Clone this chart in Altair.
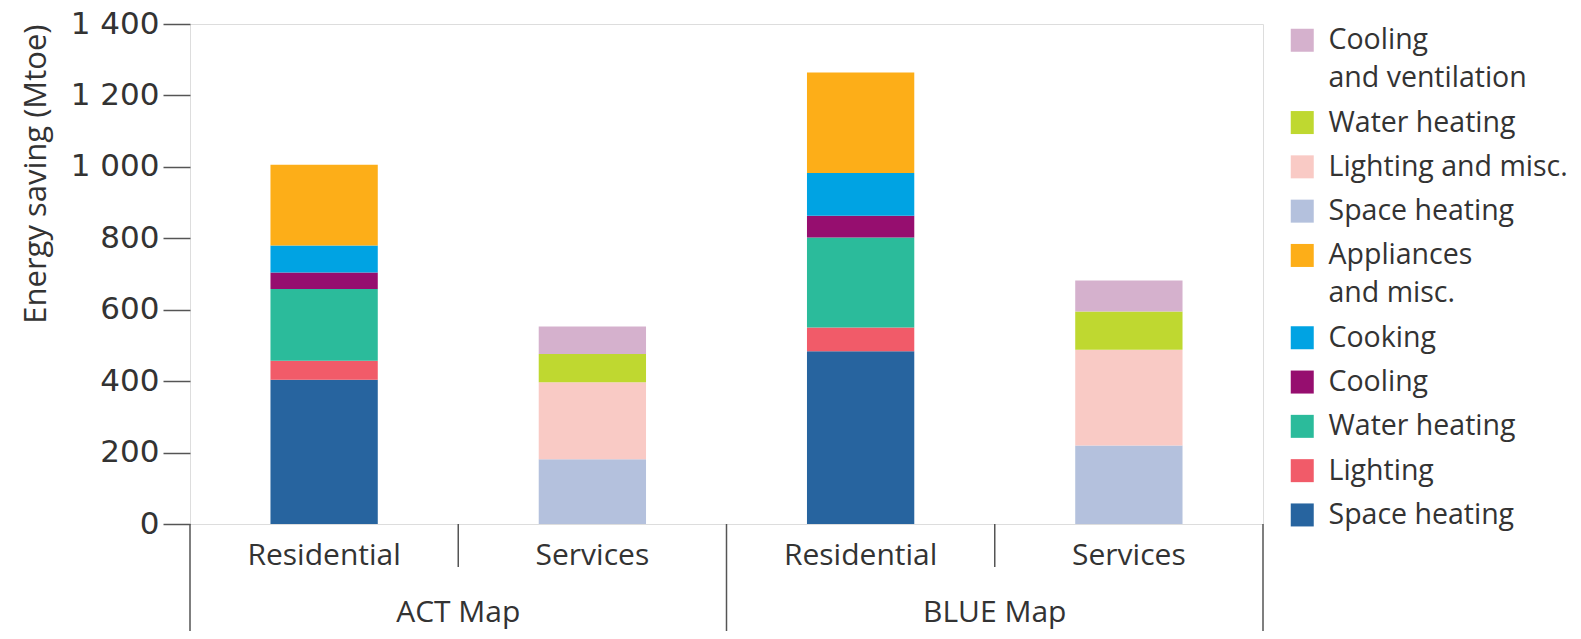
import altair as alt
import pandas as pd

# ---------------- data ----------------
groups = ["ACT Map", "BLUE Map"]
sectors = ["Residential", "Services"]

res_categories = ["Space heating", "Lighting", "Water heating", "Cooling", "Cooking", "Appliances/and misc."]
svc_categories = ["Space heating", "Lighting and misc.", "Water heating", "Cooling/and ventilation"]

act_res = [404, 53, 201, 46, 76, 226]
blue_res = [484, 66, 252, 61, 120, 281]
act_svc = [181, 216, 79, 77]
blue_svc = [220, 268, 107, 87]

res_colors = ["#27649f", "#f15b69", "#2bbb9b", "#960e6f", "#00a3e3", "#fdae18"]
svc_colors = ["#b4c1dd", "#f9cac5", "#bfd830", "#d5b1cd"]

y_ticks = [0, 200, 400, 600, 800, 1000, 1200, 1400]

FONT = "Open Sans"
NUMFONT = "DejaVu Sans"
TXT = "#333333"
LINE = "#555555"

# ---------------- tables ----------------
values = {
    ("ACT Map", "Residential"): act_res,
    ("ACT Map", "Services"): act_svc,
    ("BLUE Map", "Residential"): blue_res,
    ("BLUE Map", "Services"): blue_svc,
}
cats = {"Residential": res_categories, "Services": svc_categories}

rows = []
bar_order = []
for g in groups:
    for s in sectors:
        key = f"{g}|{s}"
        bar_order.append(key)
        for i, (c, v) in enumerate(zip(cats[s], values[(g, s)])):
            rows.append({"bar": key, "series": f"{s}|{c}", "value": v, "idx": i})
df = pd.DataFrame(rows)

# legend order: services (top) then residential, each from top of the stack down
color_domain = [f"Services|{c}" for c in reversed(svc_categories)] + \
               [f"Residential|{c}" for c in reversed(res_categories)]
color_range = list(reversed(svc_colors)) + list(reversed(res_colors))

n_bars = len(bar_order)
n_sec = len(sectors)
major_pos = [i * n_sec for i in range(len(groups) + 1)]
minor_pos = [i * n_sec + j for i in range(len(groups)) for j in range(1, n_sec)]
group_mid = [i * n_sec + n_sec / 2 for i in range(len(groups))]

pos_scale = alt.Scale(domain=[0, n_bars], nice=False, zero=False)

bars = alt.Chart(df).mark_bar().encode(
    x=alt.X("bar:N", sort=bar_order,
            scale=alt.Scale(paddingInner=0.6, paddingOuter=0.3),
            axis=alt.Axis(title=None, labelExpr="split(datum.label, '|')[1]",
                          ticks=False, domain=False, labelAngle=0,
                          labelFontSize=30, labelFont=FONT, labelColor=TXT,
                          labelPadding=16)),
    y=alt.Y("value:Q", stack="zero",
            scale=alt.Scale(domain=[0, 1400], nice=False),
            axis=alt.Axis(title="Energy saving (Mtoe)", values=y_ticks,
                          labelExpr="datum.value >= 1000 ? floor(datum.value/1000) + ' ' + format(datum.value % 1000, '03d') : '' + datum.value",
                          grid=False, domain=False, tickSize=27, tickWidth=1.5,
                          tickColor=LINE, labelPadding=4, labelFontSize=31,
                          labelFont=NUMFONT, labelColor=TXT,
                          titleFont=FONT, titleFontSize=31, titleFontWeight="normal",
                          titleColor=TXT, titleAnchor="end", titlePadding=18)),
    color=alt.Color("series:N",
                    scale=alt.Scale(domain=color_domain, range=color_range),
                    legend=alt.Legend(title=None, orient="none", legendX=1098, legendY=2,
                                      symbolType="square", symbolSize=529,
                                      symbolStrokeWidth=0, symbolOpacity=1,
                                      labelFontSize=28.5, labelFont=FONT, labelColor=TXT,
                                      labelOffset=12, labelLimit=600, rowPadding=15.3,
                                      padding=0,
                                      labelExpr="split(split(datum.label, '|')[1], '/')")),
    order=alt.Order("idx:Q", sort="ascending"),
)

major = alt.Chart(pd.DataFrame({"pos": major_pos})).mark_rule(
    color=LINE, strokeWidth=1.5).encode(
    x=alt.X("pos:Q", scale=pos_scale, axis=None),
    y=alt.value(500), y2=alt.value(640))

minor = alt.Chart(pd.DataFrame({"pos": minor_pos})).mark_rule(
    color=LINE, strokeWidth=1.5).encode(
    x=alt.X("pos:Q", scale=pos_scale, axis=None),
    y=alt.value(500), y2=alt.value(543))

glabels = alt.Chart(pd.DataFrame({"group": groups, "mid": group_mid})).mark_text(
    fontSize=30, font=FONT, color=TXT, baseline="alphabetic").encode(
    x=alt.X("mid:Q", scale=pos_scale, axis=None),
    y=alt.value(598),
    text="group:N")

chart = alt.layer(bars, major, minor, glabels).resolve_scale(
    x="independent"
).properties(
    width=1073, height=500,
    padding={"left": 182, "top": 16, "right": 310, "bottom": 107},
    autosize=alt.AutoSizeParams(type="none"),
).configure_view(
    stroke=LINE, strokeWidth=1.5
).configure(
    style={"guide-label": {"lineHeight": 38}}
)

chart.save("out.html", embed_options={"renderer": "svg", "actions": False})
